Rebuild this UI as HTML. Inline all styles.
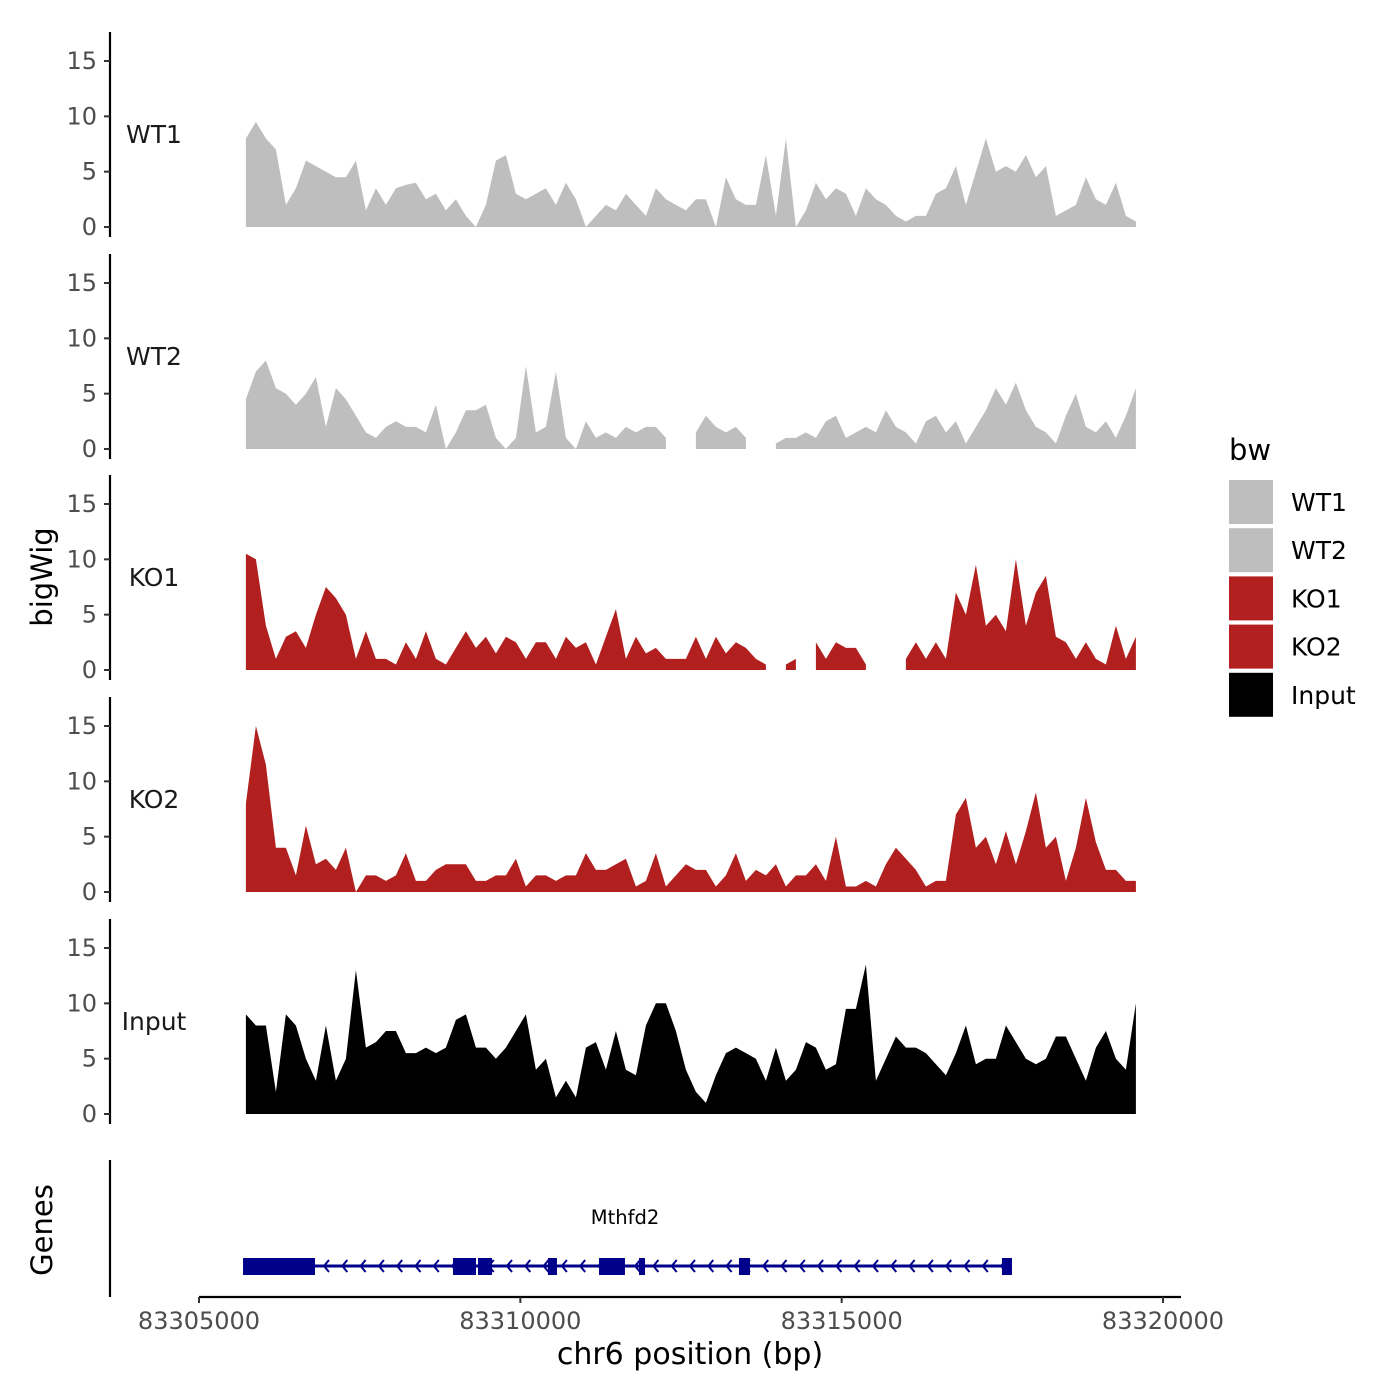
<!DOCTYPE html>
<html><head><meta charset="utf-8"><style>
body{margin:0;background:#fff}
svg{display:block;font-family:"DejaVu Sans","Liberation Sans",sans-serif}
</style></head><body>
<svg id="chart" width="1400" height="1400" viewBox="0 0 1400 1400" xmlns="http://www.w3.org/2000/svg">
<g id="panels"></g>
<g id="genes"></g>
<g id="xaxis"></g>
<text x="0" y="0" transform="translate(52,577) rotate(-90)" text-anchor="middle" font-size="29" fill="#000">bigWig</text>
<text x="0" y="0" transform="translate(52,1230) rotate(-90)" text-anchor="middle" font-size="29" fill="#000">Genes</text>
<text x="690" y="1364" text-anchor="middle" font-size="30" fill="#000">chr6 position (bp)</text>
<g id="legend"></g>
</svg>
<script>
const trackNames = ["WT1","WT2","KO1","KO2","Input"];
const trackColors = ["#bebebe","#bebebe","#b21f1f","#b21f1f","#000000"];
const yTicks = [0,5,10,15];
const xTicks = [83305000,83310000,83315000,83320000];
const xTickLabels = ["83305000","83310000","83315000","83320000"];
const binStart = 83305730;
const binBp = 155.6;
const wt1 = [8,9.5,8,7,2,3.5,6,5.5,5,4.5,4.5,6,1.5,3.5,2,3.5,3.8,4,2.5,3,1.5,2.5,1,0,2,6,6.5,3,2.5,3,3.5,2,4,2.5,0,1,2,1.5,3,2,1,3.5,2.5,2,1.5,2.5,2.5,0,4.5,2.5,2,2,6.5,1,8,0,1.5,4,2.5,3.5,3,1,3.5,2.5,2,1,0.5,1,1,3,3.5,5.5,2,5,8,5,5.5,5,6.5,4.5,5.5,1,1.5,2,4.5,2.5,2,4,1,0.5];
const wt2 = [4.5,7,8,5.5,5,4,5,6.5,2,5.5,4.5,3,1.5,1,2,2.5,2,2,1.5,4,0,1.5,3.5,3.5,4,1,0,1,7.5,1.5,2,7,1,0,2.5,1,1.5,1,2,1.5,2,2,1,null,null,1.5,3,2,1.5,2,1,null,null,0.5,1,1,1.5,1,2.5,3,1,1.5,2,1.5,3.5,2,1.5,0.5,2.5,3,1.5,2.5,0.5,2,3.5,5.5,4,6,3.5,2,1.5,0.5,3,5,2,1.5,2.5,1,3,5.5];
const ko1 = [10.5,10,4,1,3,3.5,2,5,7.5,6.5,5,1,3.5,1,1,0.5,2.5,1,3.5,1,0.5,2,3.5,2,3,1.5,3,2.5,1,2.5,2.5,1,3,2,2.5,0.5,3,5.5,1,3,1.5,2,1,1,1,3,1,3,1.5,2.5,2,1,0.5,null,0.5,1,null,2.5,1,2.5,2,2,0.5,null,null,null,1,2.5,1,2.5,1,7,5,9.5,4,5,3.5,10,4,7,8.5,3,2.5,1,2.5,1,0.5,4,1,3];
const ko2 = [8,15,11.5,4,4,1.5,6,2.5,3,2,4,0,1.5,1.5,1,1.5,3.5,1,1,2,2.5,2.5,2.5,1,1,1.5,1.5,3,0.5,1.5,1.5,1,1.5,1.5,3.5,2,2,2.5,3,0.5,1,3.5,0.5,1.5,2.5,2,2,0.5,1.5,3.5,1,2,1.5,2.5,0.5,1.5,1.5,2.5,1,5,0.5,0.5,1,0.5,2.5,4,3,2,0.5,1,1,7,8.5,4,5,2.5,5.5,2.5,5.5,9,4,5,1,4,8.5,4.5,2,2,1,1];
const inputTrack = [9,8,8,2,9,8,5,3,8,3,5,13,6,6.5,7.5,7.5,5.5,5.5,6,5.5,6,8.5,9,6,6,5,6,7.5,9,4,5,1.5,3,1.5,6,6.5,4,7.5,4,3.5,8,10,10,7.5,4,2,1,3.5,5.5,6,5.5,5,3,6,3,4,6.5,6,4,4.5,9.5,9.5,13.5,3,5,7,6,6,5.5,4.5,3.5,5.5,8,4.5,5,5,8,6.5,5,4.5,5,7,7,5,3,6,7.5,5,4,10];
const trackValues = [wt1,wt2,ko1,ko2,inputTrack];
const geneName = "Mthfd2";
const geneStart = 83305685, geneEnd = 83317650;
const exonStarts = [83305685,83308952,83309341,83310430,83311224,83311846,83313402,83317494];
const exonEnds   = [83306805,83309310,83309559,83310570,83311628,83311940,83313573,83317650];

const NS = "http://www.w3.org/2000/svg";
function mk(tag, attrs, parent){const e=document.createElementNS(NS,tag);for(const k in attrs)e.setAttribute(k,attrs[k]);parent.appendChild(e);return e;}
const xScale = bp => 199 + (bp-83305000)*(964/15000);
const panelZero = [227,449,670,892,1114];
const pxPerUnit = 166/15;
const panels = document.getElementById('panels');
trackNames.forEach((name,t)=>{
  const g = mk('g',{},panels);
  
  
  const z = panelZero[t];
  const yS = v => z - v*pxPerUnit;
  const ax = mk('line',{x1:110,x2:110,y1:z-195,y2:z+10,stroke:'#000','stroke-width':2.2},g);
  
  
  yTicks.forEach(v=>{
    mk('line',{x1:104,x2:110,y1:yS(v),y2:yS(v),stroke:'#333','stroke-width':2},g);
    const tx = mk('text',{x:97,y:yS(v)+8,'text-anchor':'end','font-size':24,fill:'#4d4d4d'},g);
    tx.textContent = v;
    
    
  });
  const lab = mk('text',{x:154,y:z-84,'text-anchor':'middle','font-size':25,fill:'#1a1a1a'},g);
  lab.textContent = name;
  
  
  const vals = trackValues[t];
  let seg = [];
  const flush = ()=>{
    if(seg.length){
      let d = 'M'+seg[0][0]+','+z;
      seg.forEach(p=>{d+=' L'+p[0]+','+p[1];});
      d+=' L'+seg[seg.length-1][0]+','+z+' Z';
      const p = mk('path',{d:d,fill:trackColors[t]},g);
      
      
    }
    seg=[];
  };
  vals.forEach((v,i)=>{
    if(v===null){flush();return;}
    seg.push([xScale(binStart+i*binBp).toFixed(1), yS(v).toFixed(1)]);
  });
  flush();
});
const gg = document.getElementById('genes');
const gl = mk('line',{x1:110,x2:110,y1:1160,y2:1297,stroke:'#000','stroke-width':2.2},gg);


const gline = mk('line',{x1:xScale(geneStart),x2:xScale(geneEnd),y1:1266,y2:1266,stroke:'#00008b','stroke-width':3},gg);


for(let x=xScale(exonEnds[0])+10; x<xScale(geneEnd)-6; x+=18.3){
  const a = mk('path',{d:`M${x+4},${1260} L${x-1},${1266} L${x+4},${1272}`,fill:'none',stroke:'#00008b','stroke-width':2},gg);
  
  
}
exonStarts.forEach((s,i)=>{
  const r = mk('rect',{x:xScale(s),y:1258,width:Math.max(4,xScale(exonEnds[i])-xScale(s)),height:17,fill:'#00008b'},gg);
  
  
});
const gn = mk('text',{x:625,y:1224,'text-anchor':'middle','font-size':19.5,fill:'#000'},gg);
gn.textContent = geneName;


const xa = document.getElementById('xaxis');
const xl = mk('line',{x1:199,x2:1181,y1:1297,y2:1297,stroke:'#000','stroke-width':2.2},xa);


xTicks.forEach((v,i)=>{
  const x = xScale(v);
  mk('line',{x1:x,x2:x,y1:1297,y2:1303,stroke:'#333','stroke-width':2},xa);
  const t = mk('text',{x:x,y:1329,'text-anchor':'middle','font-size':24,fill:'#4d4d4d'},xa);
  t.textContent = xTickLabels[i];
  
  
});
const lg = document.getElementById('legend');
const lt = mk('text',{x:1229,y:460,'font-size':29,fill:'#000'},lg);
lt.textContent = 'bw';


trackNames.forEach((n,i)=>{
  const y = 480 + i*48.2;
  const r = mk('rect',{x:1229,y:y,width:44,height:44,fill:trackColors[i]},lg);
  
  
  const t = mk('text',{x:1291,y:y+31,'font-size':25,fill:'#000'},lg);
  t.textContent = n;
  
  
});
</script>
</body></html>
